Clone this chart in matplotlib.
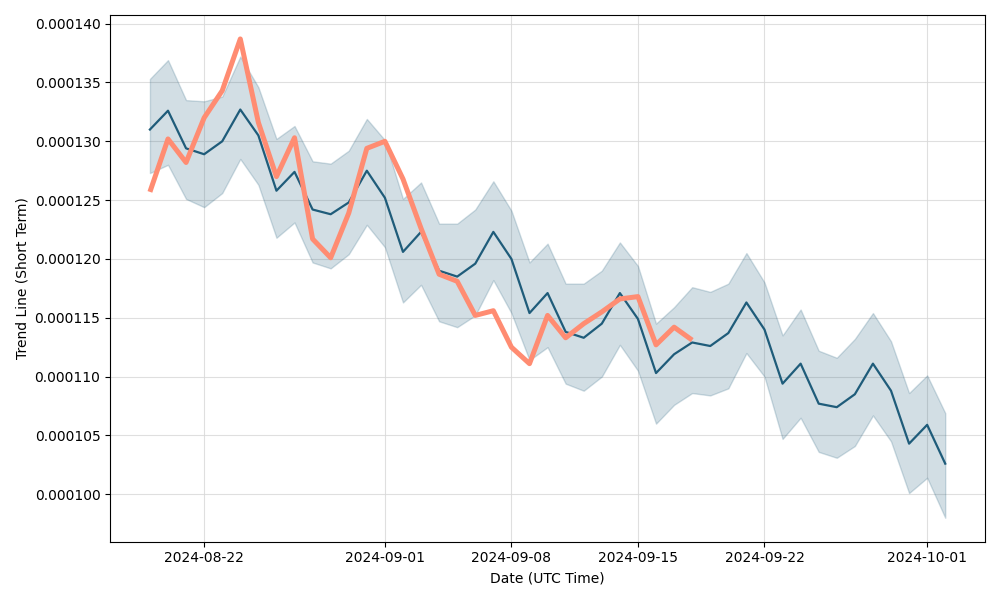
import matplotlib
matplotlib.use("Agg")
import matplotlib.pyplot as plt
import matplotlib.dates as mdates
import numpy as np
import pandas as pd

dates = pd.date_range("2024-08-19", "2024-10-02", freq="D")

trend = [131.0, 132.6, 129.4, 128.9, 130.0, 132.7, 130.5, 125.8, 127.4, 124.2,
         123.8, 124.8, 127.5, 125.2, 120.6, 122.3, 119.0, 118.5, 119.6, 122.3,
         120.0, 115.4, 117.1, 113.8, 113.3, 114.5, 117.1, 114.9, 110.3, 111.9,
         112.9, 112.6, 113.7, 116.3, 114.0, 109.4, 111.1, 107.7, 107.4, 108.5,
         111.1, 108.8, 104.3, 105.9, 102.6]

upper = [135.3, 136.9, 133.5, 133.4, 133.8, 137.2, 134.6, 130.2, 131.3, 128.3,
         128.1, 129.2, 131.9, 130.1, 125.1, 126.5, 123.0, 123.0, 124.2, 126.6,
         124.1, 119.7, 121.3, 117.9, 117.9, 119.0, 121.4, 119.4, 114.5, 115.9,
         117.6, 117.2, 117.9, 120.5, 118.0, 113.5, 115.7, 112.2, 111.6, 113.2,
         115.4, 113.0, 108.6, 110.1, 106.9]

lower = [127.3, 128.0, 125.1, 124.4, 125.6, 128.5, 126.3, 121.8, 123.1, 119.7,
         119.2, 120.4, 122.9, 121.0, 116.3, 117.8, 114.7, 114.2, 115.2, 118.2,
         115.4, 111.4, 112.5, 109.4, 108.8, 110.0, 112.7, 110.5, 106.0, 107.6,
         108.6, 108.4, 109.0, 112.0, 110.0, 104.7, 106.5, 103.6, 103.1, 104.1,
         106.7, 104.5, 100.1, 101.4, 98.0]

price = [125.7, 130.2, 128.2, 132.0, 134.3, 138.7, 131.6, 127.0, 130.3, 121.7,
         120.1, 123.9, 129.4, 130.0, 126.8, 122.6, 118.7, 118.1, 115.2, 115.6,
         112.5, 111.1, 115.2, 113.3, 114.5, 115.5, 116.6, 116.8, 112.7, 114.2,
         113.1]

scale = 1e-6
trend = np.array(trend) * scale
upper = np.array(upper) * scale
lower = np.array(lower) * scale
price = np.array(price) * scale

dark = "#1f5c7a"
fig, ax = plt.subplots(figsize=(10, 6), dpi=100)
ax.fill_between(dates, lower, upper, color=dark, alpha=0.2, zorder=1)
ax.plot(dates, trend, color=dark, linewidth=1.6, zorder=3)
ax.plot(dates[:len(price)], price, color="#ff8c72", linewidth=3.6,
        solid_capstyle="butt", zorder=4)

ax.grid(True, color="#d8d8d8", linewidth=0.8, alpha=0.8)
ax.set_axisbelow(True)
ax.xaxis.set_major_locator(mdates.DayLocator(bymonthday=[1, 8, 15, 22]))
ax.xaxis.set_major_formatter(mdates.DateFormatter("%Y-%m-%d"))
ax.yaxis.set_major_formatter(matplotlib.ticker.FormatStrFormatter("%.6f"))
ax.set_yticks(np.arange(100, 141, 5) * scale)
ax.set_xlabel("Date (UTC Time)")
ax.set_ylabel("Trend Line (Short Term)")
fig.tight_layout()
fig.savefig("out.png")
